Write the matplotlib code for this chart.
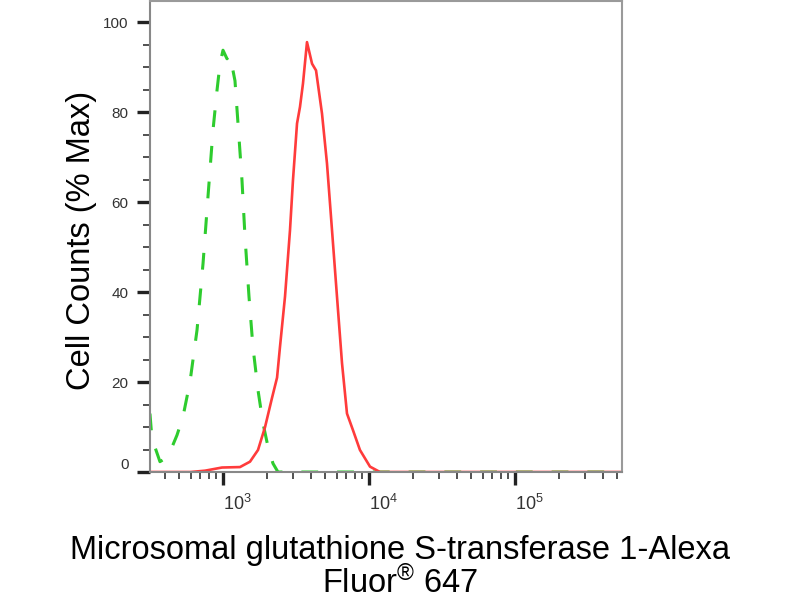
import matplotlib
matplotlib.use("Agg")
import matplotlib.pyplot as plt
from matplotlib.ticker import LogLocator, MultipleLocator, FixedLocator

plt.rcParams['font.family'] = ['Liberation Sans', 'DejaVu Sans']
plt.rcParams['mathtext.fontset'] = 'custom'
plt.rcParams['mathtext.rm'] = 'Liberation Sans'
plt.rcParams['mathtext.it'] = 'Liberation Sans'

# Valeurs (intensité, % du max)
control_x = [316, 326, 370, 420, 484, 532, 594, 664, 730, 789, 854, 910, 954, 1000,
             1065, 1117, 1208, 1267, 1349, 1415, 1507, 1604, 1737, 1880, 2034, 2200,
             2380, 541000]
control_y = [13, 7.5, 2.3, 3.4, 8.2, 12.3, 20, 31.6, 46.4, 61.2, 76, 84.9, 90.8, 93.8,
             91.9, 92.7, 87, 77.5, 64.9, 52.3, 39, 27.8, 18.2, 10.8, 5.6, 1.9,
             0, 0]

sample_x = [316, 600, 754, 984, 1307, 1531, 1737, 1941, 2167, 2346, 2456, 2659, 2877,
            3015, 3214, 3368, 3531, 3761, 4073, 4338, 4766, 5156, 5580, 6037, 6534,
            7068, 7769, 8670, 10160, 11890, 541000]
sample_y = [0, 0, 0.3, 1.0, 1.1, 2.3, 4.9, 10, 16.5, 21, 27.8, 39, 53.8,
            64.9, 77.5, 81.2, 86.4, 95.6, 90.8, 89.3, 79.7, 68.6, 53.8, 39, 24.2,
            13, 9.3, 4.9, 1.2, 0, 0]

y_ticks = [0, 20, 40, 60, 80, 100]
x_ticks = [1e3, 1e4, 1e5]
x_tick_labels = [r'$10^{3}$', r'$10^{4}$', r'$10^{5}$']

fig = plt.figure(figsize=(8, 6), dpi=100)
ax = fig.add_axes([0.1875, 0.2133, 0.59, 0.7847])

ax.plot(control_x, control_y, color='#2ecc2e', lw=2.2, ls=(0, (5.5, 6.2)))
ax.plot(sample_x, sample_y, color='#ff3b3b', lw=1.9)

ax.set_xscale('log')
ax.set_xlim(10 ** 2.5, 10 ** 5.733)
ax.set_ylim(0, 104.7)

ax.set_yticks(y_ticks)
ax.yaxis.set_minor_locator(MultipleLocator(5))
ax.xaxis.set_major_locator(FixedLocator(x_ticks))
ax.xaxis.set_minor_locator(LogLocator(base=10, subs=range(2, 10)))
ax.set_xticklabels(x_tick_labels)

ax.tick_params(which='major', direction='out', length=9.5, width=2.4, color='#222222',
               labelcolor='#333333')
ax.tick_params(which='minor', direction='out', length=5, width=1.2, color='#333333')
ax.tick_params(axis='y', pad=6, labelsize=11)
ax.tick_params(axis='x', pad=6, labelsize=13)

for lab in ax.get_xticklabels():
    lab.set_horizontalalignment('left')
ax.get_yticklabels()[0].set_verticalalignment('bottom')

for side in ['left', 'bottom']:
    ax.spines[side].set_color('#888888')
    ax.spines[side].set_linewidth(1.5)
for side in ['top', 'right']:
    ax.spines[side].set_color('#9a9a9a')
    ax.spines[side].set_linewidth(1.5)

fig.text(0.1025, 0.6, 'Cell Counts (% Max)', rotation=90, ha='center', va='center',
         fontsize=23.5)
fig.text(0.5, 0.0825, 'Microsomal glutathione S-transferase 1-Alexa', ha='center',
         va='center', fontsize=23.5)
fig.text(0.5, 0.0285, r'Fluor$^{\circledR}$ 647', ha='center', va='center', fontsize=23.5)

fig.savefig('out.png', dpi=100)
